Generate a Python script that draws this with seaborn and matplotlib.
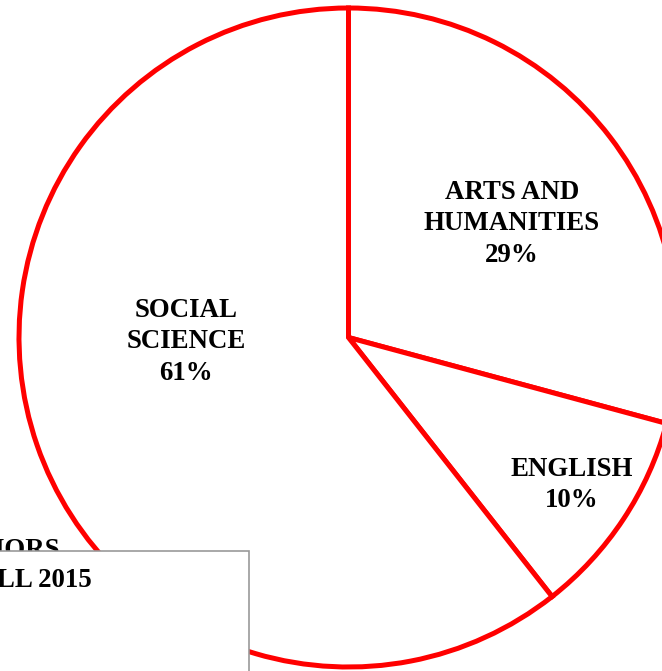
import matplotlib
matplotlib.use("Agg")
import matplotlib.pyplot as plt
import seaborn as sns
from matplotlib.patches import Rectangle

categories = ["ARTS AND\nHUMANITIES", "ENGLISH", "SOCIAL\nSCIENCE"]
shares = [29.2, 10.2, 60.6]
pct_labels = ["29%", "10%", "61%"]
title_lines = ["MAJORS", "FALL 2015"]

sns.set_theme(style="white")
plt.rcParams['font.family'] = ['Liberation Serif', 'DejaVu Serif']

W, H = 662, 671
fig = plt.figure(figsize=(W / 100, H / 100), dpi=100)
ax = fig.add_axes([0, 0, 1, 1])

cx, cy, r = 348.5, H - 337.5, 329.5
wedges, _ = ax.pie(shares, startangle=90, counterclock=False,
                   center=(cx, cy), radius=r, frame=True,
                   wedgeprops=dict(facecolor='white', edgecolor='#ff0000', linewidth=3.6))
ax.set_xlim(0, W)
ax.set_ylim(0, H)
ax.axis('off')
for w in wedges:
    w.set_zorder(1)

FS = 19.4
label_pos = [(512, 224), (572, 485), (186, 342)]
for cat, pct, (x, y) in zip(categories, pct_labels, label_pos):
    ax.text(x, H - y, f"{cat}\n{pct}", ha='center', va='center',
            fontsize=FS, fontweight='bold', color='black',
            linespacing=1.35, zorder=5)

ax.text(60, H - 557, title_lines[0], ha='right', va='baseline',
        fontsize=FS, fontweight='bold', color='black', zorder=2)
ax.add_patch(Rectangle((-20, -20), 249 + 20, (H - 551) + 20,
                       facecolor='white', edgecolor='#999999', linewidth=1.2, zorder=3))
ax.text(92, H - 587, title_lines[1], ha='right', va='baseline',
        fontsize=FS, fontweight='bold', color='black', zorder=4)

fig.savefig("out.png", dpi=100)
